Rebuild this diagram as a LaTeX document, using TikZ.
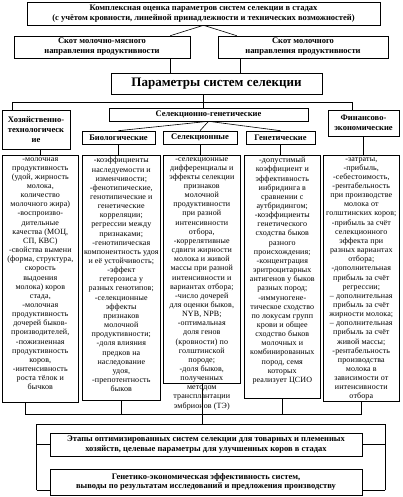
\documentclass[tikz,border=0pt]{standalone}
\usepackage{fontspec}
\setmainfont{Liberation Serif}
\newfontfamily\colfont[LetterSpace=1.5]{Liberation Serif}
\tikzset{
  x=1pt, y=-1pt,
  every path/.style={line width=0.6pt},
  hbox/.style={draw, line width=0.6pt, inner sep=0pt, align=center,
    font=\bfseries\fontsize{8.5}{9.8}\selectfont},
  colbox/.style={draw, line width=0.6pt, inner sep=0pt, anchor=north west},
  coltext/.style={anchor=north, inner sep=0pt, align=center,
    font=\colfont\fontsize{8}{9.15}\selectfont},
}
\begin{document}
\begin{tikzpicture}
\useasboundingbox (0,0) rectangle (403,497);
% top level
\node[hbox, minimum width=353pt, minimum height=23pt] (top) at (203.5,13.5)
  {Комплексная оценка параметров систем селекции в стадах\\(с учётом кровности, линейной принадлежности и технических возможностей)};
\node[hbox, minimum width=176pt, minimum height=22pt] (mm) at (102,47)
  {Скот молочно-мясного\\направления продуктивности};
\node[hbox, minimum width=170pt, minimum height=22pt] (mk) at (303,47)
  {Скот молочного\\направления продуктивности};
\node[hbox, minimum width=211pt, minimum height=21pt, font=\bfseries\fontsize{13}{14}\selectfont] (par) at (216.5,83.5)
  {Параметры систем селекции};
% second level
\node[hbox, minimum width=68pt, minimum height=39pt] (hoz) at (36,129.5)
  {Хозяйственно-\\технологическ\\ие};
\node[hbox, minimum width=199pt, minimum height=13pt] (sg) at (208.5,114.5)
  {Селекционно-генетические};
\node[hbox, minimum width=71pt, minimum height=26pt] (fin) at (363.5,123)
  {Финансово-\\экономические};
\node[hbox, minimum width=73pt, minimum height=13pt] (bio) at (118.5,137.5) {Биологические};
\node[hbox, minimum width=74pt, minimum height=13pt] (sel) at (200,137.5) {Селекционные};
\node[hbox, minimum width=69pt, minimum height=13pt] (gen) at (280.5,137.5) {Генетические};
% columns
\node[colbox, minimum width=76pt, minimum height=247pt] (c1) at (2,155) {};
\node[colbox, minimum width=78pt, minimum height=245pt] (c2) at (82,155) {};
\node[colbox, minimum width=77pt, minimum height=228pt] (c3) at (163,155) {};
\node[colbox, minimum width=76pt, minimum height=243pt] (c4) at (244,155) {};
\node[colbox, minimum width=76pt, minimum height=246pt] (c5) at (323,155) {};
\node[coltext] (t1) at ([yshift=-2pt]c1.north) {-молочная\\продуктивность\\(удой, жирность\\молока,\\количество\\молочного жира)\\-воспроизво-\\дительные\\качества (МОЦ,\\СП, КВС)\\-свойства вымени\\(форма, структура,\\скорость\\выдоения\\молока) коров\\стада,\\-молочная\\продуктивность\\дочерей быков-\\производителей,\\-пожизненная\\продуктивность\\коров,\\-интенсивность\\роста тёлок и\\бычков};
\node[coltext] (t2) at ([yshift=-2pt]c2.north) {-коэффициенты\\наследуемости и\\изменчивости;\\-фенотипические,\\генотипические и\\генетические\\корреляции;\\регрессии между\\признаками;\\-генотипическая\\компонентность удоя\\и её устойчивость;\\-эффект\\гетерозиса у\\разных генотипов;\\-селекционные\\эффекты\\признаков\\молочной\\продуктивности;\\-доля влияния\\предков на\\наследование\\удоя,\\-препотентность\\быков};
\node[coltext] (t3) at ([yshift=-2pt]c3.north) {-селекционные\\дифференциалы и\\эффекты селекции\\признаков\\молочной\\продуктивности\\при разной\\интенсивности\\отбора,\\-коррелятивные\\сдвиги жирности\\молока и живой\\массы при разной\\интенсивности и\\вариантах отбора;\\-число дочерей\\для оценки быков,\\NYB, NPB;\\-оптимальная\\доля генов\\(кровности) по\\голштинской\\породе;\\-доля быков,\\полученных\\методом\\трансплантации\\эмбрионов (ТЭ)};
\node[coltext] (t4) at ([yshift=-2pt]c4.north) {-допустимый\\коэффициент и\\эффективность\\инбридинга в\\сравнении с\\аутбридингом;\\-коэффициенты\\генетического\\сходства быков\\разного\\происхождения;\\-концентрация\\эритроцитарных\\антигенов у быков\\разных пород;\\-иммуногене-\\тическое сходство\\по локусам групп\\крови и общее\\сходство быков\\молочных и\\комбинированных\\пород, семя\\которых\\реализует ЦСИО};
\node[coltext] (t5) at ([yshift=-2pt]c5.north) {-затраты,\\-прибыль,\\-себестоимость,\\-рентабельность\\при производстве\\молока от\\голштинских коров;\\-прибыль за счёт\\селекционного\\эффекта при\\разных вариантах\\отбора;\\-дополнительная\\прибыль за счёт\\регрессии;\\– дополнительная\\прибыль за счёт\\жирности молока;\\– дополнительная\\прибыль за счёт\\живой массы;\\-рентабельность\\производства\\молока в\\зависимости от\\интенсивности\\отбора};
% bottom boxes
\node[hbox, minimum width=312pt, minimum height=23pt] (b1) at (206,444.5)
  {Этапы оптимизированных систем селекции для товарных и племенных\\хозяйств, целевые параметры для улучшенных коров в стадах};
\node[hbox, minimum width=312pt, minimum height=26pt] (b2) at (206,482)
  {Генетико-экономическая эффективность систем,\\выводы по результатам исследований и предложения производству};
% connectors top
\draw (top.south) -- ([xshift=-20pt]mm.north east);
\draw (top.south) -- ([xshift=19pt]mk.north west);
\coordinate (mmA) at ([xshift=-20pt]mm.south east);
\coordinate (mkA) at ([xshift=23pt]mk.south west);
\draw (mmA) -- (mmA |- par.north);
\draw (mkA) -- (mkA |- par.north);
\coordinate (pA) at ([xshift=-5.5pt]sg.north);
\coordinate (busL) at (12,102);
\coordinate (busR) at (352,102);
\draw (pA |- par.south) -- (pA);
\draw (busL |- hoz.north) -- (busL) -- (busR) -- (busR |- fin.north);
\draw (sg.south) -- (bio.north);
\draw (sg.south) -- (sel.north);
\draw (sg.south) -- (gen.north);
\draw (hoz.south -| c1.north) -- (c1.north);
\draw (bio.south) -- (bio.south |- c2.north);
\draw (sel.south) -- (sel.south |- c3.north);
\draw (gen.south) -- (gen.south |- c4.north);
\draw (fin.south) -- (fin.south |- c5.north);
% connectors bottom
\coordinate (botY) at (0,414);
\coordinate (brY) at (0,424);
\coordinate (c1A) at ([xshift=23pt]c1.south west);
\draw (c1A) -- (c1A |- botY) -- (c5.south |- botY) -- (c5.south);
\draw (c2.south) -- (c2.south |- botY);
\draw (c4.south) -- (c4.south |- botY);
\draw (c3.south) -- (c3.south |- brY);
\coordinate (kL) at ([xshift=-13pt]b1.west);
\coordinate (kR) at ([xshift=23pt]b1.east);
\coordinate (b2lo) at ([yshift=5pt]b2.south);
\draw (kL |- b2lo) -- (kL |- brY) -- (kR |- brY) -- (kR |- b2lo);
\draw (kL) -- (b1.west);
\draw (kR) -- (b1.east);
\draw (kL |- b2lo) -- (b2.west |- b2lo);
\draw (kR |- b2lo) -- (b2.east |- b2lo);
\end{tikzpicture}
\end{document}
